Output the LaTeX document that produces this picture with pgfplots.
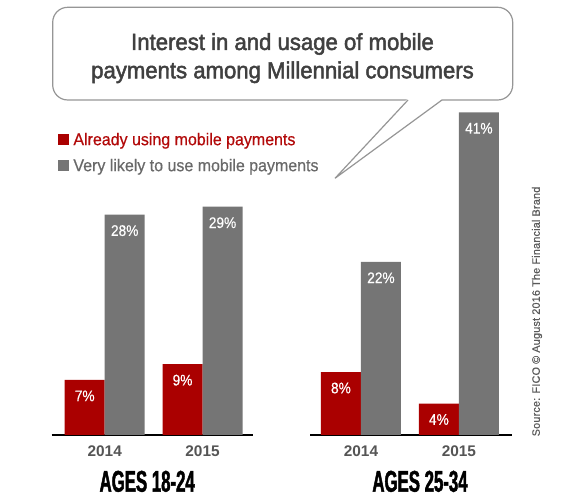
\documentclass[border=0pt]{standalone}
\usepackage{fontspec}
\setmainfont{Liberation Sans}
\newfontfamily\titlefont[FakeStretch=0.95,FakeBold=2]{Liberation Sans}
\newfontfamily\legfont[FakeStretch=0.94,FakeBold=0.5]{Liberation Sans}
\newfontfamily\lblfont[FakeStretch=0.89,FakeBold=0.3]{Liberation Sans}
\newfontfamily\agesfont[FakeStretch=0.56,FakeBold=1.5]{Liberation Sans}
\newfontfamily\srcfont[FakeBold=0.6,LetterSpace=2]{Liberation Sans}
\usepackage{pgfplots}
\pgfplotsset{compat=1.18}

\definecolor{barred}{RGB}{170,0,0}
\definecolor{bargray}{RGB}{117,117,117}
\definecolor{legred}{RGB}{178,10,10}
\definecolor{leggray}{RGB}{105,105,105}
\definecolor{titlegray}{RGB}{64,64,64}
\definecolor{yeargray}{RGB}{85,85,85}
\definecolor{srcgray}{RGB}{90,90,90}
\definecolor{bubble}{RGB}{150,150,150}

\pgfplotsset{
  /pgfplots/ybar legend/.style = {
    /pgfplots/legend image code/.code = {%
      \fill[##1,draw=none] (0pt,0pt) rectangle (11.5pt,11pt);},
  },
  agegroup/.style = {
    ybar = 0pt,
    bar width = 40pt,
    scale only axis,
    width = 201.6pt,
    height = 354.2pt,
    ymin = 0, ymax = 45,
    enlargelimits = false,
    axis y line = none,
    axis x line* = bottom,
    x axis line style = {black, line width = 1.7pt, -},
    xtick = {0,1},
    xticklabels = {2014,2015},
    major tick length = 0pt,
    xticklabel style = {font = \fontsize{15.4}{18}\selectfont\bfseries,
      text = yeargray, inner sep = 0pt, anchor = north, yshift = -10.5pt},
    nodes near coords = {\pgfmathprintnumber{\pgfplotspointmeta}\%},
    every node near coord/.append style = {font = \fontsize{15.4}{18}\selectfont\lblfont,
      text = white, inner sep = 0pt, text depth = 0pt, yshift = -21.5pt},
    /pgf/number format/assume math mode = true,
    clip = false,
  },
  redbar/.style = {fill = barred, draw = none},
  graybar/.style = {fill = bargray, draw = none},
}

\begin{document}
\begin{tikzpicture}[x=1pt, y=1pt]
  \useasboundingbox (0,0) rectangle (565,502);

  % speech bubble with the title
  \draw[bubble, line width = 1.2pt, fill = white, rounded corners = 15pt]
    (52.7,402) rectangle (512.7,494.7);
  \fill[white] (407.5,403.2) -- (335,323.7) -- (442.5,403.2) -- cycle;
  \draw[bubble, line width = 1.2pt] (408,402) -- (335,323.7) -- (442,402);
  \node[anchor = base, text = titlegray, inner sep = 0pt,
    font = \fontsize{23.3}{28}\selectfont\titlefont] at (282.5,452)
    {Interest in and usage of mobile};
  \node[anchor = base, text = titlegray, inner sep = 0pt,
    font = \fontsize{23.3}{28}\selectfont\titlefont] at (282.5,423.7)
    {payments among Millennial consumers};

  % ages 18-24
  \begin{axis}[
    agegroup,
    at = {(51.7pt,67pt)}, anchor = south west,
    xmin = -0.542, xmax = 1.519,
    legend style = {
      draw = none, fill = none, inner sep = 0pt,
      at = {(0.0298,0.8526)}, anchor = north west,
      font = \fontsize{17}{20}\selectfont\legfont,
      nodes = {inner sep = 0pt, text height = 12pt, text depth = 4pt},
      cells = {anchor = base west},
      row sep = 10pt,
      /tikz/every odd column/.append style = {column sep = 4pt},
    },
  ]
    \addplot[redbar]  coordinates { (0,7)  (1,9)  };
    \addlegendentry{\textcolor{legred}{Already using mobile payments}}
    \addplot[graybar] coordinates { (0,28) (1,29) };
    \addlegendentry{\textcolor{leggray}{Very likely to use mobile payments}}
  \end{axis}

  % ages 25-34
  \begin{axis}[
    agegroup,
    at = {(310pt,67pt)}, anchor = south west,
    xmin = -0.520, xmax = 1.538,
  ]
    \addplot[redbar]  coordinates { (0,8)  (1,4)  };
    \addplot[graybar] coordinates { (0,22) (1,41) };
  \end{axis}

  \node[anchor = base, inner sep = 0pt, font = \fontsize{30}{32}\selectfont\agesfont\bfseries]
    at (147.2,10.3) {AGES 18-24};
  \node[anchor = base, inner sep = 0pt, font = \fontsize{30}{32}\selectfont\agesfont\bfseries]
    at (420,10.3) {AGES 25-34};

  \node[rotate = 90, inner sep = 0pt, text = srcgray, font = \fontsize{10.8}{13}\selectfont\srcfont]
    at (537,190.5) {Source: FICO © August 2016 The Financial Brand};
\end{tikzpicture}
\end{document}
